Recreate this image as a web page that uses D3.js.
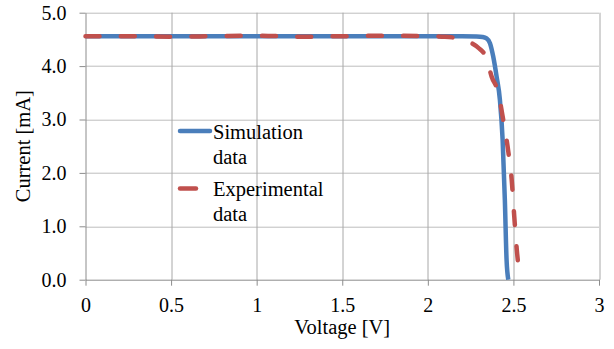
<!DOCTYPE html>
<html>
<head>
<meta charset="utf-8">
<script src="https://cdn.jsdelivr.net/npm/d3@7"></script>
<style>
  body { margin: 0; background: #fff; }
  svg text { font-family: "Liberation Serif", "Tinos", "Times New Roman", "Times", "DejaVu Serif", "Noto Serif", serif; fill: #000; }
</style>
</head>
<body>
<div id="chart"></div>
<script>
// chart values
var simVoltage = [0, 0.5, 1.0, 1.5, 2.0, 2.2, 2.285, 2.32, 2.343, 2.363, 2.382, 2.402, 2.421, 2.437, 2.450, 2.460, 2.470];
var simCurrent = [4.56, 4.56, 4.56, 4.56, 4.56, 4.56, 4.555, 4.545, 4.52, 4.43, 4.18, 3.80, 3.37, 2.62, 1.49, 0.37, 0.0];

var expVoltage = [0, 0.25, 0.5, 0.75, 1.0, 1.25, 1.5, 1.75, 2.0, 2.1, 2.19, 2.25, 2.3, 2.343, 2.373, 2.41, 2.44, 2.47, 2.49, 2.505, 2.52, 2.54];
var expCurrent = [4.56, 4.56, 4.55, 4.56, 4.57, 4.55, 4.56, 4.57, 4.56, 4.55, 4.51, 4.44, 4.33, 4.15, 3.80, 3.52, 3.00, 2.40, 1.87, 1.18, 0.55, 0.0];

var xTicks = [0, 0.5, 1, 1.5, 2, 2.5, 3];
var xTickLabels = ["0", "0.5", "1", "1.5", "2", "2.5", "3"];
var yTicks = [0, 1, 2, 3, 4, 5];
var yTickLabels = ["0.0", "1.0", "2.0", "3.0", "4.0", "5.0"];

var seriesNames = ["Simulation data", "Experimental data"];

var fontStack = "'Liberation Serif', 'Tinos', 'Times New Roman', 'Times', 'DejaVu Serif', 'Noto Serif', serif";

var width = 614, height = 349;
var margin = {top: 12.7, right: 15, bottom: 69.3, left: 85.5};
var plotW = width - margin.left - margin.right;
var plotH = height - margin.top - margin.bottom;

var svg = d3.select("#chart").append("svg")
    .attr("width", width)
    .attr("height", height)
    .attr("font-family", fontStack);

var g = svg.append("g")
    .attr("transform", "translate(" + margin.left + "," + margin.top + ")");

var x = d3.scaleLinear().domain([0, 3]).range([0, plotW]);
var y = d3.scaleLinear().domain([0, 5]).range([plotH, 0]);

// gridlines
g.selectAll(".hgrid").data(yTicks.slice(1)).enter().append("line")
    .attr("x1", 0).attr("x2", plotW)
    .attr("y1", d => Math.round(y(d)) + 0.5).attr("y2", d => Math.round(y(d)) + 0.5)
    .attr("stroke", "#bdbdbd").attr("stroke-width", 1);

g.selectAll(".vgrid").data(xTicks.slice(1)).enter().append("line")
    .attr("y1", 0).attr("y2", plotH)
    .attr("x1", d => Math.round(x(d)) + 0.5).attr("x2", d => Math.round(x(d)) + 0.5)
    .attr("stroke", "#a8a8a8").attr("stroke-width", 1);

// axes
var xAxis = d3.axisBottom(x)
    .tickValues(xTicks)
    .tickFormat((d, i) => xTickLabels[i])
    .tickSize(6)
    .tickPadding(12)
    .tickSizeOuter(0);

var yAxis = d3.axisLeft(y)
    .tickValues(yTicks)
    .tickFormat((d, i) => yTickLabels[i])
    .tickSize(6)
    .tickPadding(13)
    .tickSizeOuter(0);

var gx = g.append("g").attr("transform", "translate(0," + plotH + ")").call(xAxis);
var gy = g.append("g").call(yAxis);

[gx, gy].forEach(function(ax) {
    ax.attr("font-family", fontStack).attr("font-size", 20);
    ax.select(".domain").attr("stroke", "#8c8c8c");
    ax.selectAll(".tick line").attr("stroke", "#8c8c8c");
    ax.selectAll(".tick text").attr("fill", "#000");
});

// axis titles
svg.append("text")
    .attr("x", margin.left + x(1.5))
    .attr("y", 334)
    .attr("text-anchor", "middle")
    .style("font-size", "20.5px")
    .text("Voltage [V]");

svg.append("text")
    .attr("transform", "translate(30," + (margin.top + y(2.5)) + ") rotate(-90)")
    .attr("text-anchor", "middle")
    .style("font-size", "20.5px")
    .text("Current [mA]");

// curves
var line = d3.line()
    .x(d => x(d[0]))
    .y(d => y(d[1]))
    .curve(d3.curveMonotoneX);

var simData = simVoltage.map((v, i) => [v, simCurrent[i]]);
var expData = expVoltage.map((v, i) => [v, expCurrent[i]]);

g.append("path")
    .datum(simData)
    .attr("d", line)
    .attr("fill", "none")
    .attr("stroke", "#4a7ebb")
    .attr("stroke-width", 4.5);

g.append("path")
    .datum(expData)
    .attr("d", line)
    .attr("fill", "none")
    .attr("stroke", "#c0504d")
    .attr("stroke-width", 4.5)
    .attr("stroke-linecap", "round")
    .attr("stroke-dasharray", "14,21.3");

// legend
var legend = svg.append("g").attr("transform", "translate(180,0)");
var legendItems = [
    {name: seriesNames[0], color: "#4a7ebb", y: 131, len: 30, lines: ["Simulation", "data"]},
    {name: seriesNames[1], color: "#c0504d", y: 188.5, len: 16, lines: ["Experimental", "data"]}
];

legendItems.forEach(function(d) {
    legend.append("line")
        .attr("x1", 0).attr("x2", d.len)
        .attr("y1", d.y).attr("y2", d.y)
        .attr("stroke", d.color)
        .attr("stroke-width", 4.5)
        .attr("stroke-linecap", "round");
    d.lines.forEach(function(t, i) {
        legend.append("text")
            .attr("x", 33)
            .attr("y", d.y + 7.5 + i * 25)
            .style("font-size", "20.5px")
            .text(t);
    });
});
</script>
</body>
</html>
